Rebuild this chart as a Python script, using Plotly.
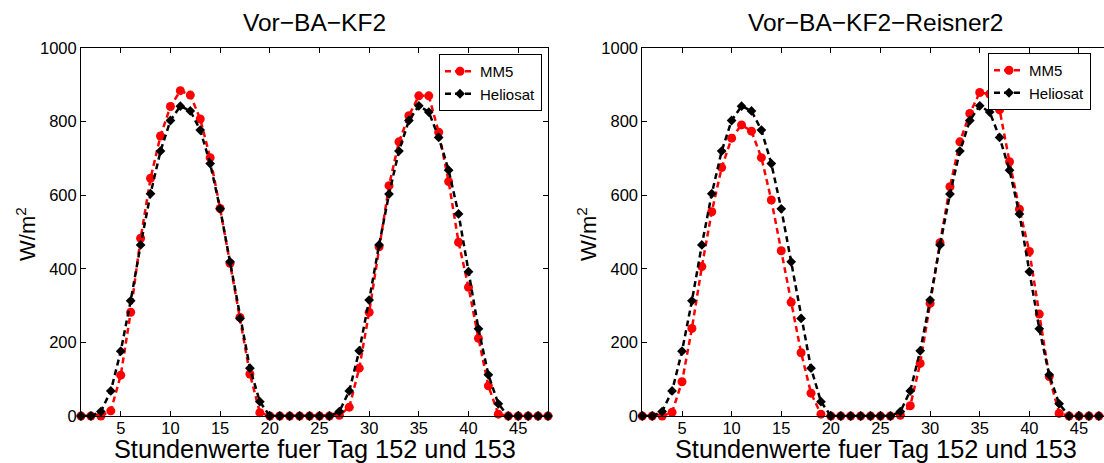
import plotly.graph_objects as go

hours = list(range(1, 49))

heliosat = [0, 0, 12, 68, 176, 313, 465, 604, 720, 803, 842, 829, 777, 686, 563, 419, 265, 130, 39,
            0, 0, 0, 0, 0, 0, 0,
            12, 68, 177, 315, 465, 603, 720, 803, 843, 826, 757, 668, 549, 392, 237, 112, 33,
            0, 0, 0, 0, 0]

mm5_kf2 = [0, 0, 0, 14, 111, 282, 483, 646, 761, 841, 884, 872, 807, 702, 564, 415, 268, 114, 9,
           0, 0, 0, 0, 0, 0, 0,
           2, 24, 130, 282, 460, 626, 745, 816, 870, 870, 771, 637, 472, 350, 211, 82, 5,
           0, 0, 0, 0, 0]

mm5_reisner = [0, 0, 0, 10, 93, 238, 406, 555, 675, 755, 791, 774, 702, 587, 449, 309, 172, 62, 5,
               0, 0, 0, 0, 0, 0, 0,
               2, 28, 143, 306, 471, 623, 745, 822, 879, 875, 832, 691, 562, 447, 277, 107, 7,
               0, 0, 0, 0, 0]

titles = ["Vor\u2212BA\u2212KF2", "Vor\u2212BA\u2212KF2\u2212Reisner2"]
xlabel = "Stundenwerte fuer Tag 152 und 153"
ylabel = "W/m<sup>2</sup>"
series_names = ["MM5", "Heliosat"]
ytickvals = [0, 200, 400, 600, 800, 1000]
xtickvals = [5, 10, 15, 20, 25, 30, 35, 40, 45]

FONT = "Liberation Sans, Arial, Helvetica, sans-serif"
W, H = 1104, 463
DASH = "6px,4px"

fig = go.Figure()

def add_pair(mm5, xa, ya, leg):
    fig.add_trace(go.Scatter(
        x=hours, y=mm5, name=series_names[0], mode="lines+markers",
        line=dict(color="#ff0000", width=2.5, dash=DASH),
        marker=dict(symbol="circle", size=9, color="#ff0000"),
        xaxis=xa, yaxis=ya, legend=leg, cliponaxis=False))
    fig.add_trace(go.Scatter(
        x=hours, y=heliosat, name=series_names[1], mode="lines+markers",
        line=dict(color="#000000", width=2.5, dash=DASH),
        marker=dict(symbol="diamond", size=7.5, color="#000000"),
        xaxis=xa, yaxis=ya, legend=leg, cliponaxis=False))

add_pair(mm5_kf2, "x", "y", "legend")
add_pair(mm5_reisner, "x2", "y2", "legend2")

yd = [(H - 416) / H, (H - 48) / H]
xd1 = [81 / W, 548 / W]
xd2 = [642.3 / W, 1.0]

axis_common = dict(showgrid=False, zeroline=False, showline=True, linecolor="black",
                   linewidth=1, ticks="inside", ticklen=5, tickcolor="black", tickwidth=1,
                   automargin=False,
                   tickfont=dict(family=FONT, size=16.5, color="black"))

legend_common = dict(bordercolor="black", borderwidth=1, bgcolor="white",
                     entrywidth=68, entrywidthmode="pixels",
                     font=dict(family=FONT, size=15, color="black"), tracegroupgap=0)

fig.update_layout(
    width=W, height=H, margin=dict(l=0, r=0, t=0, b=0, pad=0, autoexpand=False),
    paper_bgcolor="white", plot_bgcolor="white",
    font=dict(family=FONT, color="black"),
    xaxis=dict(domain=xd1, range=[1, 48], tickvals=xtickvals, mirror="ticks", anchor="y",
               ticklabelstandoff=-3, **axis_common),
    yaxis=dict(domain=yd, range=[0, 1000], tickvals=ytickvals, mirror="ticks", anchor="x",
               ticklabelstandoff=0, **axis_common),
    xaxis2=dict(domain=xd2, range=[1, 47.52], tickvals=xtickvals, mirror="ticks", anchor="y2",
                ticklabelstandoff=-3, **axis_common),
    yaxis2=dict(domain=yd, range=[0, 1000], tickvals=ytickvals, mirror=False, anchor="x2",
                ticklabelstandoff=0, **axis_common),
    legend=dict(x=542 / W, y=(H - 54) / H, xanchor="right", yanchor="top", **legend_common),
    legend2=dict(x=988 / W, y=(H - 53) / H, xanchor="left", yanchor="top", **legend_common),
    showlegend=True,
)

ann = []
for xc, t in [((81 + 548) / 2 / W, titles[0]), ((642.3 + 1109) / 2 / W, titles[1])]:
    ann.append(dict(text=t, x=xc, y=(H - 23) / H, xref="paper", yref="paper",
                    xanchor="center", yanchor="middle", showarrow=False,
                    font=dict(family=FONT, size=24.5, color="black")))
    ann.append(dict(text=xlabel, x=xc, y=(H - 449) / H, xref="paper", yref="paper",
                    xanchor="center", yanchor="middle", showarrow=False,
                    font=dict(family=FONT, size=25.3, color="black")))
for xp in [26 / W, 587 / W]:
    ann.append(dict(text=ylabel, x=xp, y=(H - 234) / H, xref="paper", yref="paper",
                    xanchor="center", yanchor="middle", showarrow=False, textangle=-90,
                    font=dict(family=FONT, size=22, color="black")))
fig.update_layout(annotations=ann)

fig.write_html("out.html")
